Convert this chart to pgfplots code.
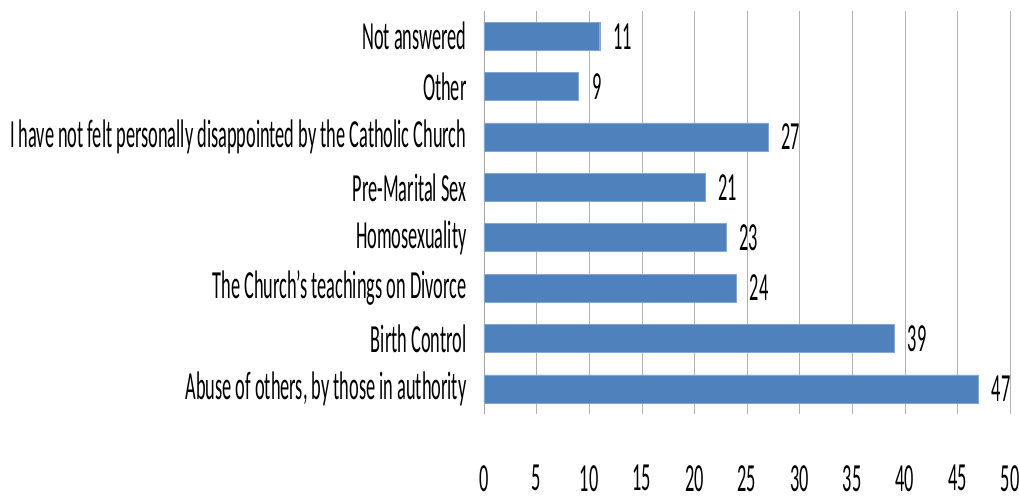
\documentclass[border=0pt]{standalone}
\usepackage{pgfplots}
\pgfplotsset{compat=1.18}
\usepackage{fontspec}
\setmainfont[FakeStretch=0.46]{Carlito}
\definecolor{barblue}{HTML}{4F81BD}
\begin{document}
\begin{tikzpicture}
\begin{axis}[
 at={(0,0)}, anchor=south west,
 scale only axis, width=526bp, height=403bp,
 xbar, bar width=28bp,
 xmin=0, xmax=50, ymin=-0.5, ymax=7.5,
 xtick={0,5,...,50},
 ytick={0,...,7},
 yticklabels={{Abuse of others, by those in authority}, Birth Control, The Church's teachings on Divorce, Homosexuality, Pre-Marital Sex, I have not felt personally disappointed by the Catholic Church, Other, Not answered},
 axis lines=left, x axis line style={draw=none}, y axis line style={draw=gray!70, -},
 xmajorgrids, grid style={gray!60},
 major tick length=0pt,
 font=\fontsize{40}{44}\selectfont,
 tick label style={font=\fontsize{40}{44}\selectfont},
 /pgf/number format/assume math mode=true,
 xticklabel style={inner sep=0pt, text depth=0pt, yshift=-51bp},
 yticklabel style={xshift=-14bp},
 nodes near coords, nodes near coords style={anchor=west, xshift=10bp, black, font=\fontsize{40}{44}\selectfont},
]
\addplot[fill=barblue, draw=barblue!70!white] coordinates {(47,0) (39,1) (24,2) (23,3) (21,4) (27,5) (9,6) (11,7)};
\end{axis}
\pgfresetboundingbox
\useasboundingbox (-484bp,-88bp) rectangle (535bp,414bp);
\end{tikzpicture}
\end{document}
